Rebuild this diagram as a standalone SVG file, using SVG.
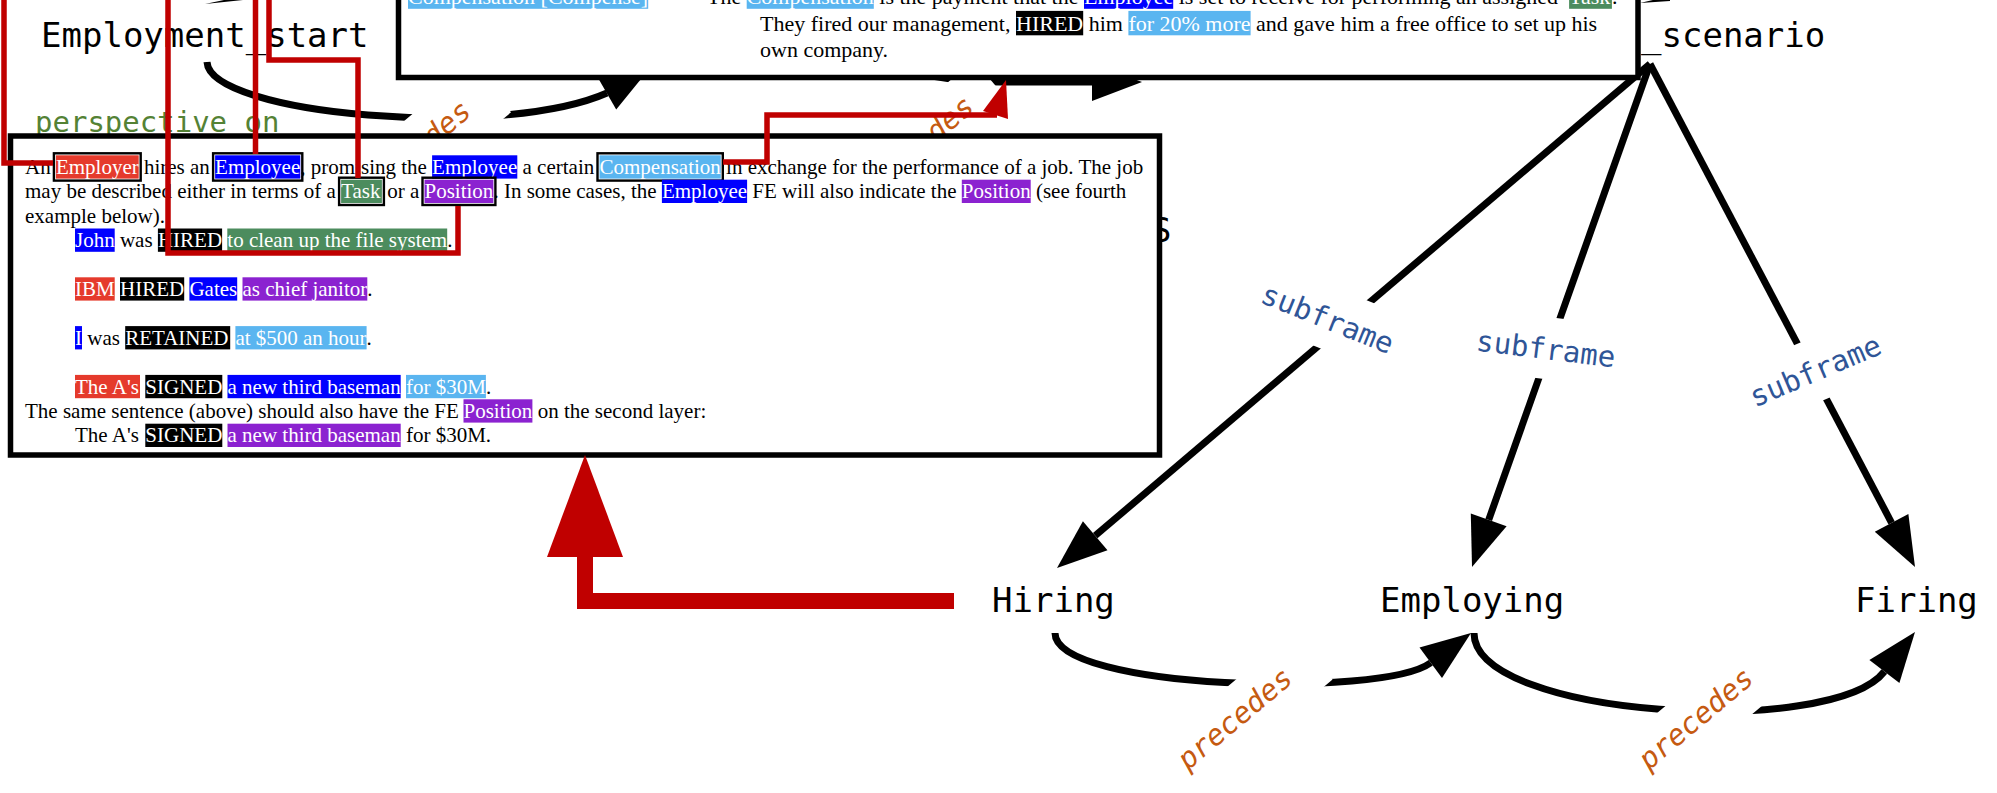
<svg xmlns="http://www.w3.org/2000/svg" width="1997" height="793" viewBox="0 0 1997 793">
<defs>
<style>
.node { font-family: "DejaVu Sans Mono", monospace; font-size: 34px; fill: #000; }
.lbl { font-family: "DejaVu Sans Mono", monospace; font-size: 29px; }
.sub { fill: #2f5597; }
.pre { fill: #c55a11; font-style: italic; }
.persp { fill: #548235; }
.lblbg { fill: #fff; }
.edge { fill: none; stroke: #000; stroke-width: 7; }
.head { fill: #000; }
.red { fill: none; stroke: #c00000; stroke-width: 5.5; stroke-linejoin: miter; }
.redfill { fill: #c00000; }
.box { fill: #fff; stroke: #000; stroke-width: 5.5; }
.doc { font-family: "Liberation Serif", "Times New Roman", serif; fill: #000; }
.t22 { font-size: 22px; }
.t21 { font-size: 21px; }
.w { fill: #fff; }
.hr { fill: #e53a2c; }
.hb { fill: #0000ff; }
.hc { fill: #5ab5f0; }
.hg { fill: #4c8c5e; }
.hp { fill: #8b22d0; }
.hk { fill: #000; }
.frame { fill: none; stroke: #000; stroke-width: 2.4; }
</style>
</defs>
<rect width="1997" height="793" fill="#fff"/>

<!-- graph edges -->
<g id="edges">
  <!-- heads of edges entering from above the view -->
  <polygon class="head" points="205,4 243,-4 243,0"/>
  <polygon class="head" points="1640,3 1670,-4 1670,1"/>

  <path class="edge" d="M207 62 C210 115 500 140 607 93"/>
  <polygon class="head" points="650,68 616.2,109.5 597.2,76.5"/>
  <path class="edge" d="M880 60 Q930 82 1000 82 L1093 82"/>
  <polygon class="head" points="1142,82 1092,101 1092,63"/>

  <line class="edge" x1="1650" y1="64" x2="1095.2" y2="535.7"/>
  <polygon class="head" points="1057,568 1107.5,550.2 1082.9,521.2"/>
  <line class="edge" x1="1650" y1="64" x2="1488.7" y2="519.9"/>
  <polygon class="head" points="1472,567 1506.6,526.3 1470.8,513.5"/>
  <line class="edge" x1="1650" y1="64" x2="1891.6" y2="522.8"/>
  <polygon class="head" points="1915,567 1908.4,513.9 1874.8,531.7"/>

  <path class="edge" d="M1055 633 C1055 690 1382.5 698.3 1430.75 662.7"/>
  <polygon class="head" points="1471,633 1442,678 1419.5,647.4"/>
  <path class="edge" d="M1474 633 C1474 718 1832.5 738.7 1884.4 671.5"/>
  <polygon class="head" points="1915,632 1899.4,683.1 1869.4,659.9"/>
</g>

<!-- edge labels -->
<g id="edge-labels" class="lbl">
  <g transform="translate(414.5,152.8) rotate(-40)">
    <rect class="lblbg" x="-100" y="-31" width="200" height="62"/>
    <text class="pre" x="0" y="8" text-anchor="middle">precedes</text>
  </g>
  <g transform="translate(917.5,148.3) rotate(-40)">
    <rect class="lblbg" x="-100" y="-31" width="200" height="62"/>
    <text class="pre" x="0" y="8" text-anchor="middle">precedes</text>
  </g>
  <g transform="translate(1328,318) rotate(22)">
    <rect class="lblbg" x="-100" y="-31" width="200" height="62"/>
    <text class="sub" x="0" y="11" text-anchor="middle">subframe</text>
  </g>
  <g transform="translate(1546,348) rotate(7)">
    <rect class="lblbg" x="-100" y="-31" width="200" height="62"/>
    <text class="sub" x="0" y="11" text-anchor="middle">subframe</text>
  </g>
  <g transform="translate(1815,370) rotate(-23)">
    <rect class="lblbg" x="-100" y="-31" width="200" height="62"/>
    <text class="sub" x="0" y="11" text-anchor="middle">subframe</text>
  </g>
  <g transform="translate(1236,720) rotate(-40)">
    <rect class="lblbg" x="-100" y="-31" width="200" height="62"/>
    <text class="pre" x="0" y="8" text-anchor="middle">precedes</text>
  </g>
  <g transform="translate(1697,720) rotate(-40)">
    <rect class="lblbg" x="-100" y="-31" width="200" height="62"/>
    <text class="pre" x="0" y="8" text-anchor="middle">precedes</text>
  </g>
  <text class="persp" x="35" y="132">perspective on</text>
</g>

<!-- nodes -->
<g id="node-employment-start"><text class="node" x="41" y="47">Employment_start</text></g>
<g id="node-employment-scenario"><text class="node" x="1641" y="47">_scenario</text></g>
<g id="node-hiring"><text class="node" x="992" y="612">Hiring</text></g>
<g id="node-employing"><text class="node" x="1380" y="612">Employing</text></g>
<g id="node-firing"><text class="node" x="1855" y="612">Firing</text></g>
<!-- node label mostly behind the definition box -->
<g id="node-behind-box"><text class="node" x="1151" y="242">S</text></g>

<g id="node-compensation-def">
  <rect class="box" x="398.5" y="-40" width="1239.5" height="117.5"/>
  <g class="doc t22">
    <rect class="hc" x="408" y="-15.6" width="240.2" height="24.4"/>
    <rect class="hc" x="746.7" y="-15.6" width="127.1" height="24.4"/>
    <rect class="hb" x="1084" y="-15.6" width="89.2" height="24.4"/>
    <rect class="hg" x="1569.1" y="-15.6" width="42.8" height="24.4"/>
    <rect class="hk" x="1016" y="10.9" width="67.2" height="24.4"/>
    <rect class="hc" x="1128.4" y="10.9" width="122.2" height="24.4"/>
    <text y="4"><tspan class="w" x="408">Compensation [Compense]</tspan><tspan x="707">The</tspan><tspan class="w" x="746.7">Compensation</tspan><tspan x="879.3">is the payment that the</tspan><tspan class="w" x="1084">Employee</tspan><tspan x="1178.7">is set to receive for performing an assigned</tspan><tspan class="w" x="1569.1">Task</tspan><tspan x="1611.9">.</tspan></text>
    <text y="30.5"><tspan x="760">They fired our management,</tspan><tspan class="w" x="1016">HIRED</tspan><tspan x="1088.7">him</tspan><tspan class="w" x="1128.4">for 20% more</tspan><tspan x="1256.1">and gave him a free office to set up his</tspan></text>
    <text x="760" y="57">own company.</text>
  </g>
</g>

<g id="node-employment-def">
  <rect class="box" x="10.5" y="136" width="1149" height="319"/>
  <g class="doc t21">
    <!-- line 1 -->
    <rect class="hr" x="55.9" y="155.3" width="82.8" height="23.3"/>
    <rect class="frame" x="53.9" y="153.3" width="86.8" height="27.3"/>
    <rect class="hb" x="215.1" y="155.3" width="85.2" height="23.3"/>
    <rect class="frame" x="213.1" y="153.3" width="89.2" height="27.3"/>
    <rect class="hb" x="432.1" y="155.3" width="85.2" height="23.3"/>
    <rect class="hc" x="599.5" y="155.3" width="121.3" height="23.3"/>
    <rect class="frame" x="597.5" y="153.3" width="125.3" height="27.3"/>
    <text y="174"><tspan x="25">An</tspan><tspan class="w" x="55.9">Employer</tspan><tspan x="143.95">hires an</tspan><tspan class="w" x="215.1">Employee</tspan><tspan x="300.3">, promising the</tspan><tspan class="w" x="432.1">Employee</tspan><tspan x="522.55">a certain</tspan><tspan class="w" x="599.5">Compensation</tspan><tspan x="726.05">in exchange for the performance of a job. The job</tspan></text>
    <!-- line 2 -->
    <rect class="hg" x="341.1" y="179.7" width="40.8" height="23.3"/>
    <rect class="frame" x="339.1" y="177.7" width="44.8" height="27.3"/>
    <rect class="hp" x="424.5" y="179.7" width="68.9" height="23.3"/>
    <rect class="frame" x="422.5" y="177.7" width="72.9" height="27.3"/>
    <rect class="hb" x="661.9" y="179.7" width="85.2" height="23.3"/>
    <rect class="hp" x="961.8" y="179.7" width="68.9" height="23.3"/>
    <text y="198.4"><tspan x="25">may be described either in terms of a</tspan><tspan class="w" x="341.1">Task</tspan><tspan x="387.15">or a</tspan><tspan class="w" x="424.5">Position</tspan><tspan x="493.4">. In some cases, the</tspan><tspan class="w" x="661.9">Employee</tspan><tspan x="752.35">FE will also indicate the</tspan><tspan class="w" x="961.8">Position</tspan><tspan x="1035.95">(see fourth</tspan></text>
    <text x="25" y="222.8">example below).</text>
    <!-- example 1 -->
    <rect class="hb" x="75" y="228.5" width="39.7" height="23.3"/>
    <rect class="hk" x="157.9" y="228.5" width="64.2" height="23.3"/>
    <rect class="hg" x="227.3" y="228.5" width="219.9" height="23.3"/>
    <text y="247.2"><tspan class="w" x="75">John</tspan><tspan x="119.95">was</tspan><tspan class="w" x="157.9">HIRED</tspan><tspan class="w" x="227.3">to clean up the file system</tspan><tspan x="447.2">.</tspan></text>
    <!-- example 2 -->
    <rect class="hr" x="75" y="277.3" width="39.7" height="23.3"/>
    <rect class="hk" x="120" y="277.3" width="64.2" height="23.3"/>
    <rect class="hb" x="189.4" y="277.3" width="47.8" height="23.3"/>
    <rect class="hp" x="242.5" y="277.3" width="124.8" height="23.3"/>
    <text y="296"><tspan class="w" x="75">IBM</tspan><tspan class="w" x="120">HIRED</tspan><tspan class="w" x="189.4">Gates</tspan><tspan class="w" x="242.5">as chief janitor</tspan><tspan x="367.3">.</tspan></text>
    <!-- example 3 -->
    <rect class="hb" x="75" y="326.1" width="7" height="23.3"/>
    <rect class="hk" x="125.2" y="326.1" width="105" height="23.3"/>
    <rect class="hc" x="235.4" y="326.1" width="131.2" height="23.3"/>
    <text y="344.8"><tspan class="w" x="75">I</tspan><tspan x="87.25">was</tspan><tspan class="w" x="125.2">RETAINED</tspan><tspan class="w" x="235.4">at $500 an hour</tspan><tspan x="366.6">.</tspan></text>
    <!-- example 4 -->
    <rect class="hr" x="75" y="374.9" width="65" height="23.3"/>
    <rect class="hk" x="145.3" y="374.9" width="77" height="23.3"/>
    <rect class="hb" x="227.5" y="374.9" width="173.2" height="23.3"/>
    <rect class="hc" x="406" y="374.9" width="79.9" height="23.3"/>
    <text y="393.6"><tspan class="w" x="75">The A's</tspan><tspan class="w" x="145.3">SIGNED</tspan><tspan class="w" x="227.5">a new third baseman</tspan><tspan class="w" x="406">for $30M</tspan><tspan x="485.9">.</tspan></text>
    <!-- second layer note -->
    <rect class="hp" x="463.5" y="399.3" width="68.9" height="23.3"/>
    <text y="418"><tspan x="25">The same sentence (above) should also have the FE</tspan><tspan class="w" x="463.5">Position</tspan><tspan x="537.7">on the second layer:</tspan></text>
    <rect class="hk" x="145.3" y="423.7" width="77" height="23.3"/>
    <rect class="hp" x="227.5" y="423.7" width="173.2" height="23.3"/>
    <text y="442.4"><tspan x="75">The A's</tspan><tspan class="w" x="145.3">SIGNED</tspan><tspan class="w" x="227.5">a new third baseman</tspan><tspan x="405.95">for $30M.</tspan></text>
  </g>
</g>

<!-- frame-element links -->
<g id="fe-links">
  <path class="red" d="M4 -5 V163 H53"/>
  <path class="red" d="M168 -5 V253 H458 V206"/>
  <path class="red" d="M255.5 -5 V154"/>
  <path class="red" d="M269 -5 V60 H358 V178"/>
  <path class="red" d="M723 162 H767 V115 H997"/>
  <polygon class="redfill" points="1006,80 983,111 1008,119"/>
  <path class="red" style="stroke-width:16" d="M954 601 H585 V556"/>
  <polygon class="redfill" points="547,557 623,557 585,455"/>
</g>
</svg>
